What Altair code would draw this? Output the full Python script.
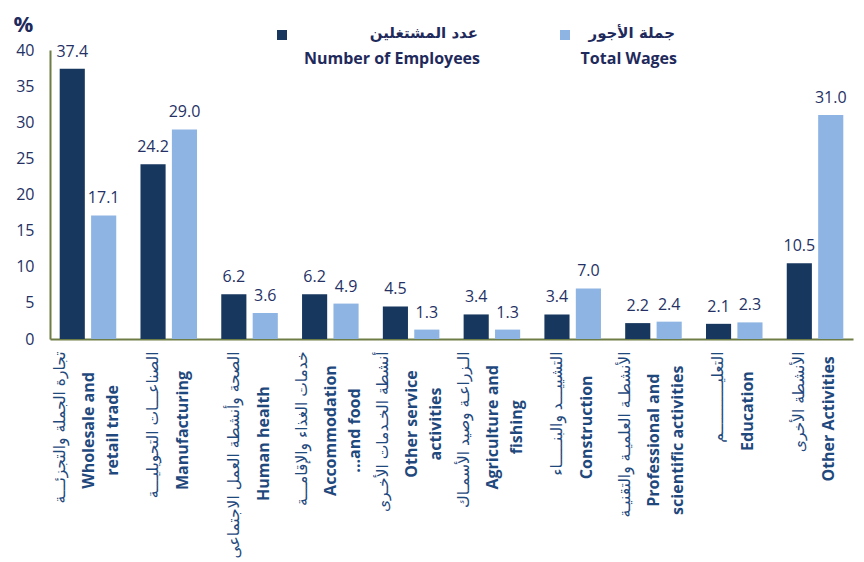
import altair as alt
import pandas as pd

# ---- data ----
arabic = [
    "تجارة الجملة والتجزئـــة",
    "الصناعـــات التحويليـــة",
    "الصحة وأنشطة العمل الاجتماعى",
    "خدمات الغذاء والإقامـــة",
    "أنشطة الخـدمات الأخـرى",
    "الـزراعـة وصيد الأسمـاك",
    "التشييـــد والبنـــــاء",
    "الأنشطـة العلميـة والتقنيـة",
    "التعليـــــــــــم",
    "الأنشطة الأخرى",
]
english = [
    "Wholesale and|retail trade",
    "Manufacturing",
    "Human health",
    "Accommodation|...and food",
    "Other service|activities",
    "Agriculture and|fishing",
    "Construction",
    "Professional and|scientific activities",
    "Education",
    "Other Activities",
]
series = ["Number of Employees", "Total Wages"]
series_ar = ["عدد المشتغلين", "جملة الأجور"]
employees = [37.4, 24.2, 6.2, 6.2, 4.5, 3.4, 3.4, 2.2, 2.1, 10.5]
wages = [17.1, 29.0, 3.6, 4.9, 1.3, 1.3, 7.0, 2.4, 2.3, 31.0]
y_ticks = [0, 5, 10, 15, 20, 25, 30, 35, 40]

colors = ["#17375E", "#8DB4E2"]
navy = "#253165"
label_blue = "#1F497D"
olive = "#6E7D45"

cats = [a + "|" + e for a, e in zip(arabic, english)]
rows = []
for c, e, w in zip(cats, employees, wages):
    rows.append({"cat": c, "series": series[0], "value": e})
    rows.append({"cat": c, "series": series[1], "value": w})
df = pd.DataFrame(rows)

xscale = alt.Scale(paddingInner=0.3, paddingOuter=0.12)

# centre of each rotated label block: half of its longest line (estimated per character)
P = "split(datum.label, '|')"
TWO = f"length({P}) > 2"
KA, KE = 6.5, 8.3
pad_expr = (
    f"13 + max(length({P}[0]) * {KA}, "
    f"max(length({P}[1]), {TWO} ? length({P}[2]) : 0) * {KE}) / 2"
)

eng_axis = alt.Axis(
    orient="bottom", title=None, labelAngle=270, labelAlign="center", labelBaseline="middle",
    labelExpr=f"slice({P}, 1)",
    labelFont="Open Sans", labelFontWeight="bold", labelFontSize=16, labelColor=label_blue,
    labelLineHeight=24, labelOffset=alt.ExprRef(expr=f"{TWO} ? 1 : 14"),
    labelPadding=alt.ExprRef(expr=pad_expr),
    labelLimit=300, labelOverlap=False,
    domainColor=olive, domainWidth=2, ticks=False,
)
ar_axis = alt.Axis(
    orient="bottom", title=None, labelAngle=270, labelAlign="right", labelBaseline="middle",
    labelExpr=f"{P}[0]",
    labelFont="DejaVu Sans", labelFontSize=15.5, labelColor=label_blue,
    labelOffset=alt.ExprRef(expr=f"{TWO} ? -28 : -16"), labelPadding=12,
    labelLimit=300, labelOverlap=False,
    domain=False, ticks=False,
)
y_axis = alt.Axis(
    values=y_ticks, grid=False, ticks=False, domainColor=olive, domainWidth=2,
    labelFont="Open Sans", labelFontSize=16, labelColor=navy, labelPadding=16,
    title="%", titleAngle=0, titleX=-27, titleY=-19, titleAlign="center",
    titleBaseline="alphabetic", titleFont="Open Sans", titleFontSize=22,
    titleFontWeight="bold", titleColor="#1F2A5C",
)
yenc = alt.Y("value:Q", scale=alt.Scale(domain=[0, 40]), axis=y_axis)

base = alt.Chart(df)

bars = base.mark_bar().encode(
    x=alt.X("cat:N", sort=cats, scale=xscale, axis=eng_axis),
    xOffset=alt.XOffset("series:N", sort=series, scale=alt.Scale(paddingInner=0.2)),
    y=yenc,
    color=alt.Color("series:N", scale=alt.Scale(domain=series, range=colors), legend=None),
)

labels = base.mark_text(baseline="bottom", dy=-9, font="Open Sans", fontSize=16, color=navy).encode(
    x=alt.X("cat:N", sort=cats, scale=xscale, axis=ar_axis),
    xOffset=alt.XOffset("series:N", sort=series, scale=alt.Scale(paddingInner=0.2)),
    y=yenc,
    text=alt.Text("value:Q", format=".1f"),
)

# ---- custom legend ----
legend_layers = []
sq_x = [232, 515]
txt_x = [430, 627]
for i in range(2):
    d = pd.DataFrame({"en": [series[i]], "ar": [series_ar[i]]})
    legend_layers.append(
        alt.Chart(d).mark_square(size=100, opacity=1, color=colors[i]).encode(
            x=alt.value(sq_x[i]), y=alt.value(-15)
        )
    )
    legend_layers.append(
        alt.Chart(d).mark_text(align="right", baseline="middle", font="DejaVu Sans",
                               fontSize=15, fontWeight="bold", color="#1F2A5C").encode(
            x=alt.value(txt_x[i] - 2), y=alt.value(-17), text="ar:N"
        )
    )
    legend_layers.append(
        alt.Chart(d).mark_text(align="right", baseline="middle", font="Open Sans",
                               fontSize=16, fontWeight="bold", color="#1F2A5C").encode(
            x=alt.value(txt_x[i]), y=alt.value(9), text="en:N"
        )
    )

chart = alt.layer(bars, labels, *legend_layers).resolve_axis(x="independent").properties(
    width=803, height=289,
    padding={"left": 5, "top": 5, "right": 1, "bottom": 2},
).configure_view(stroke=None)

chart.save("out.html", embed_options={"renderer": "svg", "actions": False})
